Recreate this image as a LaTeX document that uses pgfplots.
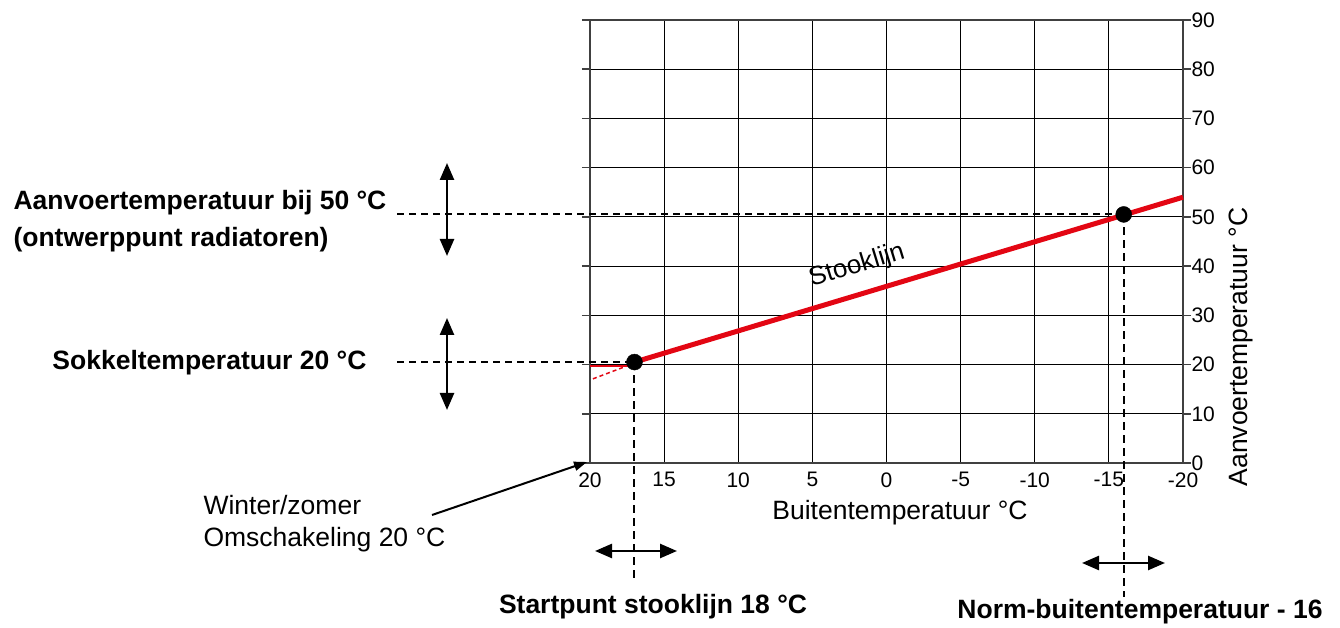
\documentclass[border=0pt]{standalone}
\usepackage{pgfplots}
\pgfplotsset{compat=1.18}
\usepackage{fontspec}
\setmainfont{Liberation Sans}
\usetikzlibrary{arrows.meta}
\definecolor{stookred}{RGB}{227,6,19}

\begin{document}
\begin{tikzpicture}[x=1pt,y=1pt]
\useasboundingbox (0,0) rectangle (1340,628);
\begin{axis}[
  at={(590pt,165pt)}, anchor=south west,
  width=593pt, height=443pt, scale only axis,
  xmin=-20, xmax=20, x dir=reverse,
  ymin=0, ymax=90,
  xtick={-20,-15,...,20}, ytick={0,10,...,90},
  grid=major, major grid style={black, line width=1pt},
  axis line style={black!75, line width=1.5pt},
  yticklabel pos=right,
  xtick style={draw=none},
  ytick style={black!75, line width=1.5pt},
  tick align=outside, major tick length=8pt,
  /pgf/number format/assume math mode=true,
  tick label style={font=\fontsize{21}{25}\selectfont},
  xticklabel style={yshift=2pt},
  yticklabel style={xshift=-3pt},
  clip=false,
]
% dashed reference lines
\addplot[black, line width=2pt, dash pattern=on 7pt off 5pt] coordinates {(33,50.5) (-16,50.5)};
\addplot[black, line width=2pt, dash pattern=on 7pt off 5pt] coordinates {(33,20.5) (17,20.5)};
\addplot[black, line width=2pt, dash pattern=on 8pt off 5pt] coordinates {(17,20.5) (17,-23.4)};
\addplot[black, line width=2pt, dash pattern=on 8pt off 5pt] coordinates {(-16,50.5) (-16,-27.2)};
% heating curve
\addplot[stookred, line width=1.5pt] coordinates {(20,19.7) (17.3,19.7)};
\addplot[stookred, line width=1.5pt, dash pattern=on 4pt off 3pt] coordinates {(19.8,17.1) (17,20.3)};
\addplot[stookred, line width=5pt] coordinates {(17,20.5) (-20,54)};
\addplot[only marks, mark=*, mark size=8pt, black] coordinates {(17,20.5) (-16,50.5)};
\end{axis}

% axis labels
\node[font=\fontsize{26.5}{30}\selectfont] at (900,115) {Buitentemperatuur °C};
\node[font=\fontsize{26.5}{30}\selectfont, rotate=90] at (1241,281) {Aanvoertemperatuur °C};
\node[font=\fontsize{26}{30}\selectfont, rotate=17] at (857,362) {Stooklijn};

% arrows
\draw[line width=2.5pt, {Triangle[length=17pt,width=14pt]}-{Triangle[length=17pt,width=14pt]}] (447,465) -- (447,372);
\draw[line width=2.5pt, {Triangle[length=17pt,width=14pt]}-{Triangle[length=17pt,width=14pt]}] (447,310) -- (447,218);
\draw[line width=2.5pt, {Triangle[length=17pt,width=14pt]}-{Triangle[length=17pt,width=14pt]}] (595,77) -- (677,77);
\draw[line width=2.5pt, {Triangle[length=17pt,width=14pt]}-{Triangle[length=17pt,width=14pt]}] (1082,65) -- (1165,65);
\draw[line width=2pt, -{Triangle[length=13pt,width=9pt]}] (432,113) -- (587,166);

% annotations
\node[anchor=west, font=\bfseries\fontsize{26.5}{30}\selectfont] at (10,425) {Aanvoertemperatuur bij 50 °C};
\node[anchor=west, font=\bfseries\fontsize{26.5}{30}\selectfont] at (10,388) {(ontwerppunt radiatoren)};
\node[anchor=east, font=\bfseries\fontsize{26.5}{30}\selectfont] at (370,265) {Sokkeltemperatuur 20 °C};
\node[anchor=west, font=\fontsize{26.5}{30}\selectfont] at (200,123) {Winter/zomer};
\node[anchor=west, font=\fontsize{26.5}{30}\selectfont] at (200,88) {Omschakeling 20 °C};
\node[font=\bfseries\fontsize{26.5}{30}\selectfont] at (653,21) {Startpunt stooklijn 18 °C};
\node[font=\bfseries\fontsize{26.5}{30}\selectfont] at (1140,16) {Norm-buitentemperatuur - 16};
\end{tikzpicture}
\end{document}
